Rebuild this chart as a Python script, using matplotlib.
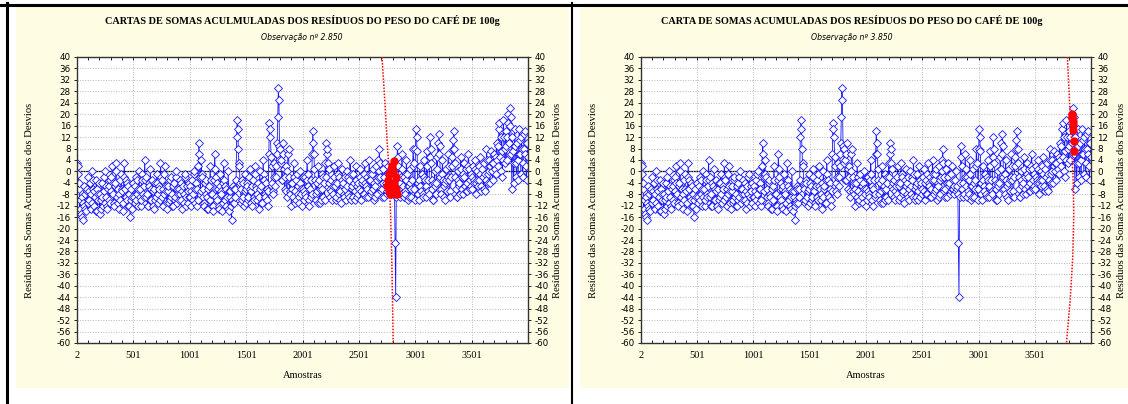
import numpy as np
import matplotlib
matplotlib.use("Agg")
import matplotlib.pyplot as plt
from matplotlib.patches import Rectangle
from matplotlib.lines import Line2D

# ---------------- data ----------------
sample_step = 5
residuals = [
    3, -1, 2, -6, -4, -13, -10, -15, -16, -9, -17, -11, -12, -5, -8, -13, -14, -7, -6, -11,
    -2, -7, -10, -4, -13, -8, 0, -11, -6, -3, -12, -7, -9, -14, -3, -6, -14, -10, -8, -4,
    -15, -8, -10, -13, -4, -9, -12, -2, -7, -11, 0, -5, -9, -12, -13, -6, -5, -10, -11, -3,
    -2, -7, 2, -4, -8, -11, -12, -5, -4, 0, 3, -9, -6, -11, -13, -8, -10, -3, -1, -6,
    -7, -11, -14, -2, 3, -6, -3, -9, -10, -4, -5, -12, -12, -8, -16, -10, -6, -13, -9, -4,
    -4, -9, -11, -5, -2, -10, -8, -3, -12, -6, 0, -9, -6, -12, -10, -1, -3, -8, -9, -5,
    4, -3, -2, -9, -8, -12, -12, -4, -5, -10, 1, -6, -10, -3, -7, -12, -13, -6, -4, -10,
    -9, -4, -1, -8, -11, -5, -6, -10, 3, -2, -3, -9, -12, -6, -8, -1, 2, -5, -7, -11,
    -13, -7, -5, -11, -10, -3, -2, -9, -8, -12, -12, -5, -4, -10, -9, -2, 0, -6, -11, -8,
    -6, -10, -3, -8, -10, -4, -13, -7, -5, -11, -8, -2, -1, -9, -12, -5, -7, -11, -4, -9,
    -9, -5, -12, -7, -3, -10, -8, -1, 0, -6, -11, -4, -6, -12, -10, 2, 10, 6, -2, -7,
    4, -1, -2, -9, -6, -11, -12, -4, -3, -8, -9, -13, -13, -6, -5, -10, 2, -3, -8, -12,
    -8, -12, -14, -3, 6, 1, -2, -9, -10, -4, -6, -12, -13, -5, -1, -7, -8, -14, -11, -4,
    3, -3, -5, -10, -12, -6, -9, -13, 0, -7, -14, -9, -7, -12, -17, -10, -11, -5, -6, -11,
    -6, -9, -3, 12, 18, 15, 8, 3, 2, -4, -6, -11, -10, -3, -4, -9, -12, -7, -1, -6,
    -11, -4, -5, -10, -9, -2, 1, -6, -7, -11, -12, -5, -3, -9, -10, -1, 2, -5, -6, -10,
    -8, -4, -13, -9, 0, -6, -5, -11, -11, -3, 4, -1, -3, -8, -9, -4, -6, -10, -12, -7,
    6, 17, 15, 12, 5, 2, -4, -7, -8, -2, 3, -5, -2, 2, 6, 10, 19, 29, 25, 9,
    8, 3, 4, -3, -3, 6, 10, 1, -6, -2, 2, -7, -9, 0, 6, 8, -2, -7, -8, -4,
    -12, -6, -4, -9, 3, -2, -7, -11, -10, -3, -1, -8, -5, -9, -11, -4, 0, -6, -8, -12,
    -6, -2, -10, -7, -2, -8, -9, -3, 4, -1, -5, -10, -12, -6, -3, -9, -8, 6, 14, 10,
    6, 1, -3, -8, -10, -4, -7, -11, 2, -3, -11, -6, -5, -10, -1, -6, -9, -2, -4, -10,
    3, -2, 10, 6, 8, 3, 1, -4, -6, -9, -3, -7, -10, -5, -8, -2, 2, -4, -5, -10,
    -9, -4, 3, -1, -2, -8, -7, -10, -11, -3, 1, -5, -4, -8, -9, -2, -6, -10, 0, -5,
    -8, -2, -3, -9, 4, -1, -10, -6, -5, -9, -1, -4, -7, -10, 2, -3, -9, -5, -4, -8,
    -6, -2, 1, -7, -10, -4, -3, -8, -8, -1, 3, -4, -5, -9, -2, -6, -9, -3, 4, -1,
    -3, -8, -7, -1, 1, -6, -10, -4, -5, -9, 2, -3, -8, -2, 4, 0, 8, 3, -2, -7,
    -6, -9, 1, -4, -9, -2, 3, -5, -4, -8, -7, -1, 2, -6, -6, -3, -8, -5, -3, -7,
    0, -6, -5, -8, -25, -44, -9, -4, 9, 5, 2, -6, -4, -9, -8, -2, 6, 1, -5, -9,
    -2, -7, -8, -3, 4, -1, -10, -5, -5, -9, 1, -4, -9, -6, -3, 2, 8, 3, -6, -10,
    8, 15, 12, 7, -4, -8, -10, -3, 2, -5, -7, -1, -1, -8, -9, -2, 4, -3, -5, -9,
    7, 2, -3, -7, -8, 5, 12, 8, 3, -3, -6, -10, -10, -4, 0, -5, -4, -8, 5, 1,
    10, 6, 13, 9, -2, -6, -8, -1, 4, -3, -5, -9, -10, -4, 1, -3, -7, -2, 6, 2,
    -3, -7, -9, -2, 2, 5, 8, 11, 14, 8, 3, -2, -6, -9, -9, -3, 0, -5, -4, -8,
    5, 1, -2, -6, -8, -1, 3, -2, -5, -7, 1, -4, -7, 2, 6, 1, -3, -6, -1, -5,
    -6, -2, 2, -3, -4, 1, 4, -4, -8, -3, 0, -5, -3, 2, 5, -1, -5, -7, 1, -2,
    -2, -6, 3, -1, -7, -3, 8, 4, -1, -4, 4, 0, -4, 2, 7, 3, 0, -3, 3, 6,
    6, 1, -1, 5, 10, 4, 2, 9, 15, 17, 5, 0, 12, 7, -2, 4, 18, 12, 8, 3,
    14, 9, 4, 12, 17, 20, 10, 16, 22, 19, 6, -6, 12, 7, -4, 3, 15, 9, 3, -2,
    10, 4, -3, 6, 15, 11, 6, -1, 12, 8, -2, 3, 8, 13, 14, 6, 2, -3, 10, 5,
]
samples = 2 + sample_step * np.arange(len(residuals))

# highlighted (out of control) points
red_left_x = [2752, 2758, 2764, 2770, 2776, 2782, 2788, 2794, 2800, 2806, 2810, 2816, 2822, 2828, 2834, 2838]
red_left_y = [-5, -3, -7, -1, -8, 1, -5, 2, -7, 0, 3.5, -4, -8, -2, -6, -8]
red_right_x = [3828, 3831, 3834, 3837, 3840, 3843, 3846, 3849]
red_right_y = [19, 20, 18.5, 17.5, 16.5, 14.5, 10.5, 7]

# V-mask boundary (dotted red)
mask_left_v = [40, 25, 10, 0, -15, -30, -45, -60]
mask_left_x = [2706, 2730, 2752, 2768, 2782, 2792, 2799, 2805]
mask_right_v = [40, 20, 8, -5, -15, -30, -45, -60]
mask_right_x = [3790, 3815, 3830, 3843, 3847, 3838, 3815, 3782]

x_ticks = [2, 501, 1001, 1501, 2001, 2501, 3001, 3501]
x_tick_labels = ["2", "501", "1001", "1501", "2001", "2501", "3001", "3501"]
y_ticks = list(range(-60, 41, 4))

titles = ["CARTAS DE SOMAS ACULMULADAS DOS RESÍDUOS DO PESO DO CAFÉ DE 100g",
          "CARTA DE SOMAS ACUMULADAS DOS RESÍDUOS DO PESO DO CAFÉ DE 100g"]
subtitles = ["Observação nº 2.850", "Observação nº 3.850"]
x_label = "Amostras"
y_label = "Resíduos das Somas Acumuladas dos Desvios"

# ---------------- figure ----------------
W, H = 1128, 404
fig = plt.figure(figsize=(W / 100, H / 100), dpi=100)
fig.patch.set_facecolor("white")

def fx(px):
    return px / W

def fy(py):
    return 1 - py / H

BEIGE = "#FEFDE3"
BLUE = "#1414FF"

# beige panels
fig.add_artist(Rectangle((fx(16), fy(388)), fx(569 - 16), (388 - 6) / H,
                         facecolor=BEIGE, edgecolor="none", transform=fig.transFigure, zorder=0))
fig.add_artist(Rectangle((fx(580), fy(388)), fx(1128 - 580), (388 - 6) / H,
                         facecolor=BEIGE, edgecolor="none", transform=fig.transFigure, zorder=0))
# black frame lines
fig.add_artist(Line2D([0, 1], [fy(4.5), fy(4.5)], color="black", lw=2.2, transform=fig.transFigure))
fig.add_artist(Line2D([fx(6.5), fx(6.5)], [0, fy(3)], color="black", lw=2.2, transform=fig.transFigure))
fig.add_artist(Line2D([fx(572), fx(572)], [0, fy(3)], color="black", lw=1.5, transform=fig.transFigure))

panels = [
    dict(left=77, right=528, tx=302, title=titles[0], sub=subtitles[0],
         rx=red_left_x, ry=red_left_y, mx=mask_left_x, mv=mask_left_v, ylx=30, yrx=558),
    dict(left=641, right=1091, tx=852, title=titles[1], sub=subtitles[1],
         rx=red_right_x, ry=red_right_y, mx=mask_right_x, mv=mask_right_v, ylx=594, yrx=1121),
]

TOP, BOT = 57, 343
for p in panels:
    ax = fig.add_axes([fx(p["left"]), fy(BOT), fx(p["right"] - p["left"]), (BOT - TOP) / H])
    ax.set_facecolor("white")
    ax.set_xlim(2, 4000)
    ax.set_ylim(-60, 40)
    ax.set_xticks(x_ticks)
    ax.set_xticklabels(x_tick_labels, fontfamily="Liberation Serif", fontsize=7.5)
    ax.set_xticks(np.arange(101, 4000, 100), minor=True)
    ax.set_yticks(y_ticks)
    ax.set_yticklabels([str(v) for v in y_ticks], fontfamily="DejaVu Sans", fontsize=6.3)
    ax.tick_params(axis="y", which="both", left=True, right=True, labelleft=True,
                   labelright=True, length=2.5, direction="out", pad=2, width=0.6)
    ax.tick_params(axis="x", which="both", top=True, bottom=True, direction="in",
                   length=2.5, width=0.6, pad=6)
    ax.grid(True, which="major", color="#b8b8b8", linestyle=":", linewidth=0.7)
    for s in ax.spines.values():
        s.set_color("#333333")
        s.set_linewidth(1.0)
    ax.axhline(0, color="black", lw=0.9, zorder=1.5)

    ax.plot(samples, residuals, color=BLUE, lw=0.6, marker="D", markersize=4.3,
            markerfacecolor="white", markeredgecolor=BLUE, markeredgewidth=0.6, zorder=2)
    ax.plot(p["rx"], p["ry"], linestyle="none", marker="o", markersize=5,
            color="red", zorder=3)
    ax.plot(p["mx"], p["mv"], color="red", linestyle=(0, (1, 1)), lw=1.1, zorder=4)

    fig.text(fx(p["tx"]), fy(21), p["title"], ha="center", va="center",
             fontfamily="Liberation Serif", fontweight="bold", fontsize=7.4)
    fig.text(fx(p["tx"]), fy(37), p["sub"], ha="center", va="center",
             fontfamily="DejaVu Sans", fontstyle="italic", fontsize=5.6)
    fig.text(fx((p["left"] + p["right"]) / 2), fy(375), x_label, ha="center", va="center",
             fontfamily="Liberation Serif", fontsize=7.5)
    fig.text(fx(p["ylx"]), fy(200), y_label, ha="center", va="center", rotation=90,
             fontfamily="Liberation Serif", fontsize=7.7)
    fig.text(fx(p["yrx"]), fy(200), y_label, ha="center", va="center", rotation=90,
             fontfamily="Liberation Serif", fontsize=7.7)

fig.savefig("out.png", dpi=100, facecolor="white")
